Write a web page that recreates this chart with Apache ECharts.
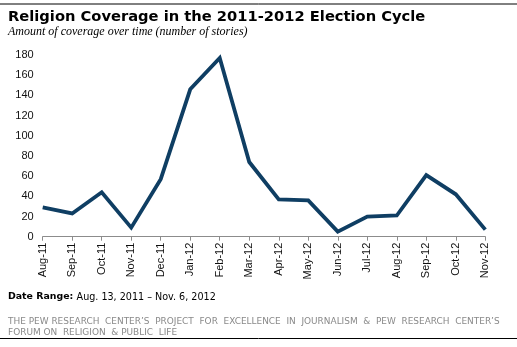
<!DOCTYPE html>
<html>
<head>
<meta charset="utf-8">
<style>
  html, body { margin: 0; padding: 0; background: #fff; }
  #chart { width: 517px; height: 347px; }
</style>
<script src="https://cdn.jsdelivr.net/npm/echarts@6/dist/echarts.min.js"></script>
</head>
<body>
<div id="chart"></div>
<script>
// Monthly story counts on religion during the 2011-2012 campaign
const months = ['Aug-11', 'Sep-11', 'Oct-11', 'Nov-11', 'Dec-11', 'Jan-12', 'Feb-12', 'Mar-12',
  'Apr-12', 'May-12', 'Jun-12', 'Jul-12', 'Aug-12', 'Sep-12', 'Oct-12', 'Nov-12'];
const stories = [29, 23, 44, 9, 57, 146, 177, 74, 37, 36, 5, 20, 21, 61, 42, 7];

const titleText = 'Religion Coverage in the 2011-2012 Election Cycle';
const subtitleText = 'Amount of coverage over time (number of stories)';
const rangeLabel = 'Date Range:';
const rangeText = 'Aug. 13, 2011 \u2013 Nov. 6, 2012';
const creditLines = [
  'THE PEW RESEARCH  CENTER\u2019S  PROJECT  FOR  EXCELLENCE  IN  JOURNALISM  &  PEW  RESEARCH  CENTER\u2019S',
  'FORUM ON  RELIGION  & PUBLIC  LIFE'
];

const sans = '"DejaVu Sans", Verdana, sans-serif';

const chart = echarts.init(document.getElementById('chart'), null, { renderer: 'canvas' });

chart.setOption({
  animation: false,
  backgroundColor: '#ffffff',
  grid: { left: 42.7, right: 31.7, top: 55, bottom: 110.3, containLabel: false },
  xAxis: {
    type: 'category',
    data: months,
    boundaryGap: false,
    axisLine: { lineStyle: { color: '#8c8c8c', width: 1 } },
    axisTick: { show: true, length: 4, alignWithLabel: true, lineStyle: { color: '#8c8c8c' } },
    axisLabel: {
      rotate: 90, interval: 0, margin: 6,
      fontFamily: 'Liberation Sans, Arial, sans-serif', fontSize: 11, color: '#111'
    },
    splitLine: { show: false }
  },
  yAxis: {
    type: 'value',
    min: 0, max: 180, interval: 20,
    axisLine: { show: false },
    axisTick: { show: false },
    splitLine: { show: false },
    axisLabel: {
      margin: 9,
      fontFamily: 'Liberation Sans, Arial, sans-serif', fontSize: 11, color: '#111'
    }
  },
  series: [{
    type: 'line',
    data: stories,
    symbol: 'none',
    lineStyle: { color: '#0f3e63', width: 3.8, join: 'miter' }
  }],
  graphic: [
    { type: 'line', shape: { x1: 0, y1: 4, x2: 517, y2: 4 }, style: { stroke: '#000', lineWidth: 1 } },
    { type: 'line', shape: { x1: 0, y1: 338.5, x2: 517, y2: 338.5 }, style: { stroke: '#000', lineWidth: 1 } },
    {
      type: 'text', left: 8, top: 9.5,
      style: { text: titleText, fontFamily: sans, fontWeight: 'bold', fontSize: 14.7, fill: '#000' }
    },
    {
      type: 'text', left: 8, top: 26,
      style: {
        text: subtitleText, fontFamily: '"Liberation Serif", Georgia, serif',
        fontStyle: 'italic', fontSize: 12, fill: '#000'
      }
    },
    {
      type: 'text', left: 8, top: 291,
      style: {
        text: '{b|' + rangeLabel + '} {r|' + rangeText + '}',
        rich: {
          b: { fontFamily: sans, fontWeight: 'bold', fontSize: 9.4, fill: '#000' },
          r: { fontFamily: sans, fontSize: 9.6, fill: '#000' }
        }
      }
    },
    {
      type: 'text', left: 8, top: 317,
      style: { text: creditLines[0], fontFamily: sans, fontSize: 8.95, fill: '#8a8a8a' }
    },
    {
      type: 'text', left: 8, top: 328,
      style: { text: creditLines[1], fontFamily: sans, fontSize: 8.95, fill: '#8a8a8a' }
    }
  ]
});
</script>
</body>
</html>
